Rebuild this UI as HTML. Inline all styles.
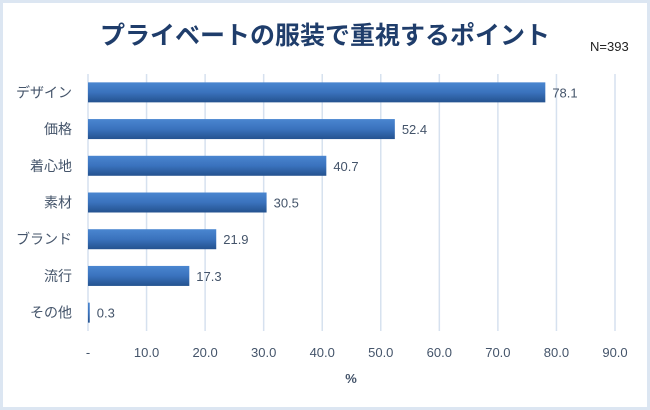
<!DOCTYPE html>
<html><head><meta charset="utf-8">
<style>
body{margin:0;background:#fff;}
#wrap{position:relative;width:650px;height:410px;box-sizing:border-box;border:3px solid #dce6f2;background:#fff;overflow:hidden;}
svg text{font-family:"Liberation Sans","Noto Sans CJK JP",sans-serif;}
</style></head>
<body>
<div id="wrap">
<svg id="chart" width="650" height="410" style="position:absolute;left:-3px;top:-3px">
<defs>
<linearGradient id="bg" x1="0" y1="0" x2="0" y2="1">
<stop offset="0" stop-color="#4a86d0"/><stop offset="0.5" stop-color="#3a72bd"/><stop offset="1" stop-color="#24528f"/>
</linearGradient>
</defs>
<text x="325" y="44" text-anchor="middle" font-size="25" font-weight="bold" fill="#1f3d6b">プライベートの服装で重視するポイント</text>
<text x="590" y="51" font-size="13" fill="#222">N=393</text>
<g id="grid"></g>
<g id="bars"></g>
<g id="xt"></g>
<text x="351" y="383" text-anchor="middle" font-size="13" font-weight="bold" fill="#44546a">%</text>
</svg>
</div>
<script>
const categories=["デザイン","価格","着心地","素材","ブランド","流行","その他"];
const values=[78.1,52.4,40.7,30.5,21.9,17.3,0.3];
const tickValues=[0,10,20,30,40,50,60,70,80,90];
const tickLabels=["-","10.0","20.0","30.0","40.0","50.0","60.0","70.0","80.0","90.0"];
const NS="http://www.w3.org/2000/svg";
const x0=88,x1=615,xMax=90,yTop=74,yBottom=331;
const xs=v=>x0+(x1-x0)*v/xMax;
const rowH=(yBottom-yTop)/categories.length;
const ys=i=>yTop+rowH*(i+0.5);
function mk(t,a){const e=document.createElementNS(NS,t);for(const k in a)e.setAttribute(k,a[k]);return e;}
const grid=document.getElementById('grid'),bars=document.getElementById('bars'),xt=document.getElementById('xt');
tickValues.forEach((v,i)=>{
 const l=mk('line',{x1:xs(v),x2:xs(v),y1:yTop,y2:yBottom,stroke:'#d6e1ef','stroke-width':1.5});
 
 
 grid.appendChild(l);
 const t=mk('text',{x:xs(v),y:357,'text-anchor':'middle','font-size':13,fill:'#44546a'});
 t.textContent=tickLabels[i];
 
 
 xt.appendChild(t);
});
categories.forEach((c,i)=>{
 const y=ys(i),h=20;
 const r=mk('rect',{x:x0,y:y-h/2,width:Math.max(1.5,xs(values[i])-x0),height:h,fill:'url(#bg)'});
 
 
 bars.appendChild(r);
 const v=mk('text',{x:xs(values[i])+7,y:y+5,'font-size':13,fill:'#44546a'});
 v.textContent=values[i].toFixed(1);
 
 
 bars.appendChild(v);
 const l=mk('text',{x:72,y:y+5,'text-anchor':'end','font-size':14,fill:'#44546a'});
 l.textContent=c;
 
 
 bars.appendChild(l);
});
</script>
</body></html>
